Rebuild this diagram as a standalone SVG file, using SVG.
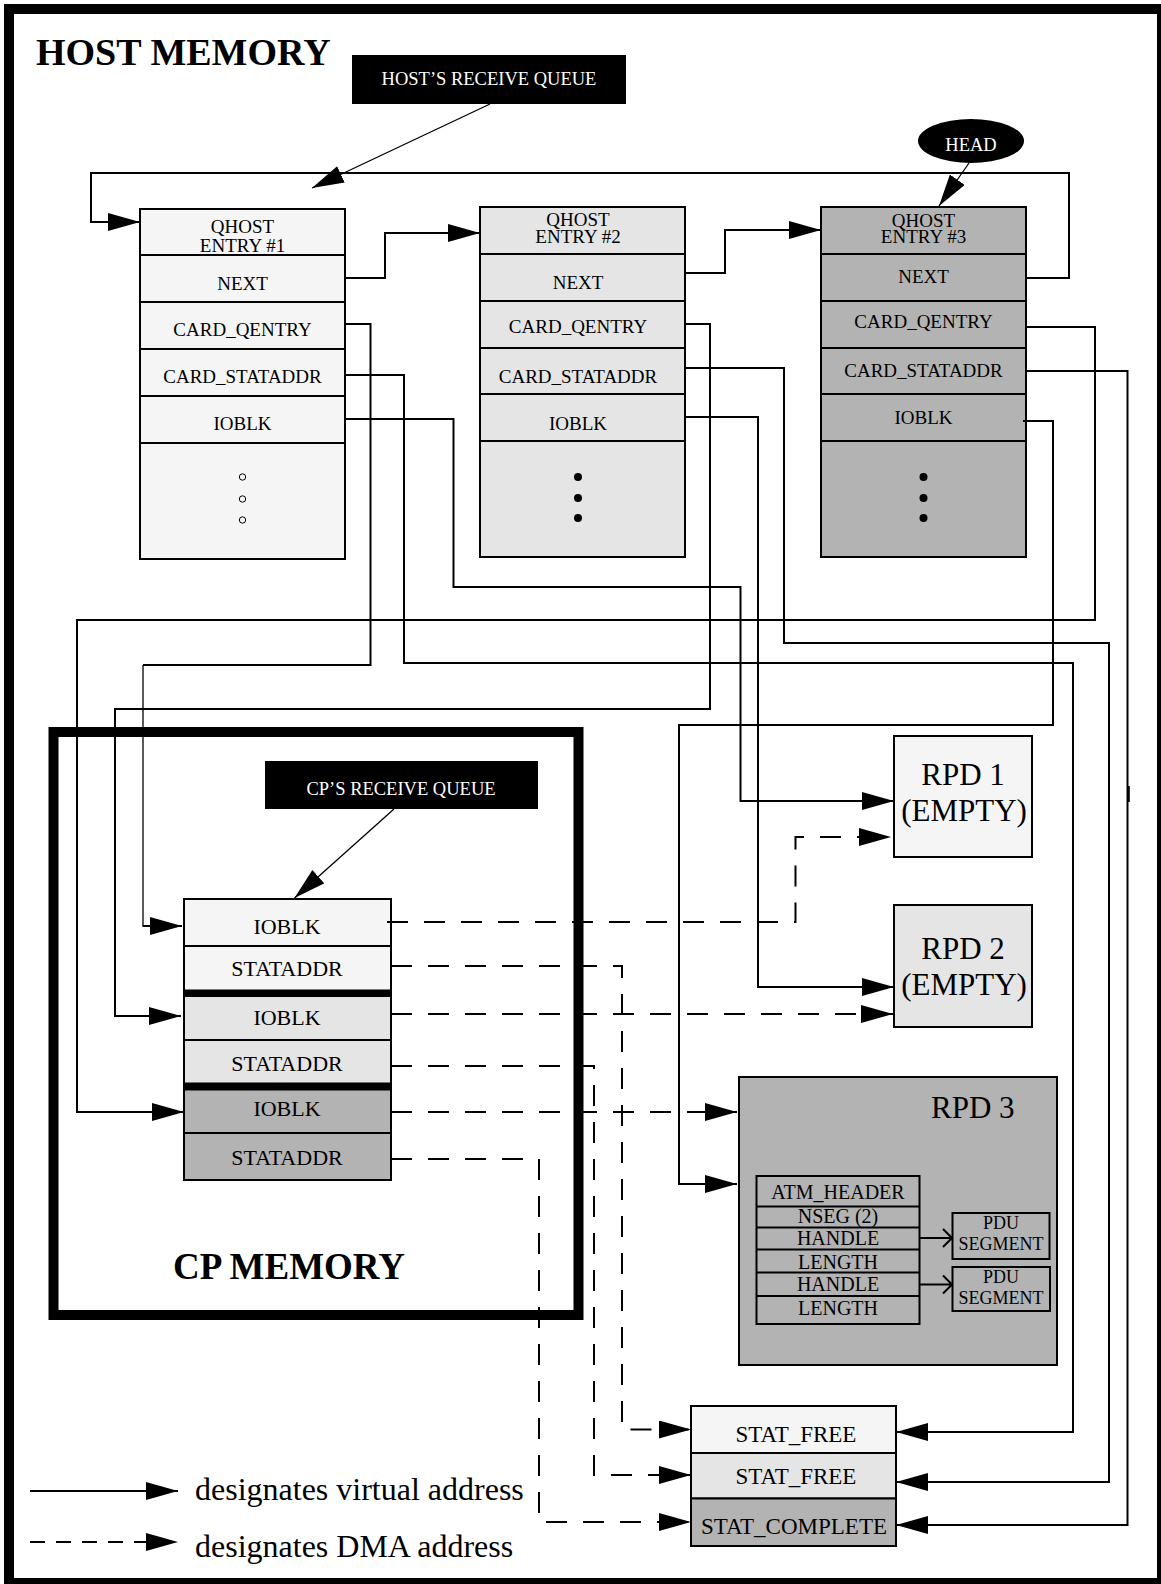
<svg xmlns="http://www.w3.org/2000/svg" width="1161" height="1584" viewBox="0 0 1161 1584">
<defs>
<marker id="ah" markerUnits="userSpaceOnUse" markerWidth="34" markerHeight="20" refX="32" refY="9" orient="auto"><path d="M0,0 L32,9 L0,18 z" fill="#000"/></marker>
</defs>
<style>
text{font-family:"Liberation Serif","Times New Roman",serif;fill:#000}
.t19{font-size:19px;text-anchor:middle}
.t22{font-size:22px;text-anchor:middle}
.t20{font-size:20px;text-anchor:middle}
.t18{font-size:18px;text-anchor:middle}
.t23{font-size:23px;text-anchor:middle}
.t31{font-size:31px}
.t32{font-size:32px}
.big{font-size:38px;font-weight:bold}
.wt{fill:#fff;font-size:18.5px;text-anchor:middle}
.box{stroke:#000;stroke-width:2}
.c1{fill:#f5f5f5}.c2{fill:#e5e5e5}.c3{fill:#b3b3b3}
.ln{fill:none;stroke:#000;stroke-width:2}
.thin{fill:none;stroke:#000;stroke-width:1.3}
.da{fill:none;stroke:#000;stroke-width:2;stroke-dasharray:21 16}
.row{stroke:#000;stroke-width:2}
</style>
<rect x="9" y="9" width="1153" height="1574" fill="#fff" stroke="#000" stroke-width="10"/>
<text x="36" y="65" class="big">HOST MEMORY</text>

<g id="host-queue">
<rect x="352" y="55" width="274" height="49" fill="#000"/>
<text x="489" y="85" class="wt">HOST’S RECEIVE QUEUE</text>
</g>
<g id="head">
<ellipse cx="971" cy="141" rx="53" ry="22" fill="#000"/>
<text x="971" y="151" class="wt">HEAD</text>
</g>

<g id="entry1">
<rect x="140" y="209" width="205" height="350" class="box c1"/>
<path d="M140,255H345M140,302H345M140,349H345M140,396H345M140,443H345" class="row"/>
<text x="242.5" y="233" class="t19">QHOST</text>
<text x="242.5" y="252" class="t19">ENTRY #1</text>
<text x="242.5" y="290" class="t19">NEXT</text>
<text x="242.5" y="336" class="t19">CARD_QENTRY</text>
<text x="242.5" y="383" class="t19">CARD_STATADDR</text>
<text x="242.5" y="430" class="t19">IOBLK</text>
<g fill="none" stroke="#000" stroke-width="1"><circle cx="242.5" cy="477" r="3.2"/><circle cx="242.5" cy="499" r="3.2"/><circle cx="242.5" cy="520" r="3.2"/></g>
</g>

<g id="entry2">
<rect x="480" y="207" width="205" height="350" class="box c2"/>
<path d="M480,254H685M480,301H685M480,348H685M480,394H685M480,441H685" class="row"/>
<text x="578" y="226" class="t19">QHOST</text>
<text x="578" y="243" class="t19">ENTRY #2</text>
<text x="578" y="289" class="t19">NEXT</text>
<text x="578" y="333" class="t19">CARD_QENTRY</text>
<text x="578" y="383" class="t19">CARD_STATADDR</text>
<text x="578" y="430" class="t19">IOBLK</text>
<g fill="#000"><circle cx="578" cy="477" r="4"/><circle cx="578" cy="498" r="4"/><circle cx="578" cy="518" r="4"/></g>
</g>

<g id="entry3">
<rect x="821" y="207" width="205" height="350" class="box c3"/>
<path d="M821,254H1026M821,301H1026M821,348H1026M821,394H1026M821,441H1026" class="row"/>
<text x="923.5" y="227" class="t19">QHOST</text>
<text x="923.5" y="243" class="t19">ENTRY #3</text>
<text x="923.5" y="283" class="t19">NEXT</text>
<text x="923.5" y="328" class="t19">CARD_QENTRY</text>
<text x="923.5" y="377" class="t19">CARD_STATADDR</text>
<text x="923.5" y="424" class="t19">IOBLK</text>
<g fill="#000"><circle cx="923.5" cy="477" r="4"/><circle cx="923.5" cy="498" r="4"/><circle cx="923.5" cy="518" r="4"/></g>
</g>

<g id="cp-memory">
<rect x="53.5" y="732" width="525" height="583" fill="none" stroke="#000" stroke-width="10"/>
<text x="173" y="1279" class="big" style="font-size:37px">CP MEMORY</text>
</g>
<g id="cp-queue">
<rect x="265" y="761" width="273" height="48" fill="#000"/>
<text x="401" y="795" class="wt">CP’S RECEIVE QUEUE</text>
</g>

<g id="cp-table">
<rect x="184" y="899" width="207" height="47" class="box c1"/>
<rect x="184" y="946" width="207" height="47" class="box c1"/>
<rect x="184" y="993" width="207" height="47" class="box c2"/>
<rect x="184" y="1040" width="207" height="46" class="box c2"/>
<rect x="184" y="1086" width="207" height="47" class="box c3"/>
<rect x="184" y="1133" width="207" height="47" class="box c3"/>
<rect x="185" y="989.5" width="206" height="7.5" fill="#000"/>
<rect x="185" y="1082.5" width="206" height="8" fill="#000"/>
<text x="287" y="933.5" class="t22">IOBLK</text>
<text x="287" y="975.5" class="t22">STATADDR</text>
<text x="287" y="1025" class="t22">IOBLK</text>
<text x="287" y="1071" class="t22">STATADDR</text>
<text x="287" y="1116" class="t22">IOBLK</text>
<text x="287" y="1164.5" class="t22">STATADDR</text>
</g>

<g id="rpd1">
<rect x="894" y="736" width="138" height="121" class="box c1"/>
<text x="963" y="784.5" class="t31" text-anchor="middle">RPD 1</text>
<text x="964" y="820.5" class="t31" text-anchor="middle">(EMPTY)</text>
</g>
<g id="rpd2">
<rect x="894" y="905" width="138" height="122" class="box c2"/>
<text x="963" y="958.5" class="t31" text-anchor="middle">RPD 2</text>
<text x="964" y="994.5" class="t31" text-anchor="middle">(EMPTY)</text>
</g>
<g id="rpd3">
<rect x="739" y="1077" width="318" height="288" class="box c3"/>
<text x="931" y="1118" class="t31">RPD 3</text>
<rect x="756.5" y="1176" width="163" height="148" class="box c3"/>
<path d="M756.5,1206.5H919.5M756.5,1227.5H919.5M756.5,1249.5H919.5M756.5,1272.5H919.5M756.5,1296H919.5" class="row"/>
<text x="838" y="1198.5" class="t20">ATM_HEADER</text>
<text x="838" y="1222.5" class="t20">NSEG (2)</text>
<text x="838" y="1245" class="t20">HANDLE</text>
<text x="838" y="1268.5" class="t20">LENGTH</text>
<text x="838" y="1291" class="t20">HANDLE</text>
<text x="838" y="1314.5" class="t20">LENGTH</text>
</g>
<g id="pdu1">
<rect x="952.5" y="1213" width="97" height="46" class="box c3"/>
<text x="1001" y="1228.5" class="t18">PDU</text>
<text x="1001" y="1249.5" class="t18">SEGMENT</text>
</g>
<g id="pdu2">
<rect x="952.5" y="1267" width="97.5" height="44" class="box c3"/>
<text x="1001" y="1282.5" class="t18">PDU</text>
<text x="1001" y="1303.5" class="t18">SEGMENT</text>
</g>

<g id="stat">
<rect x="691" y="1406" width="205" height="47" class="box c1"/>
<rect x="691" y="1453" width="205" height="45.5" class="box c2"/>
<rect x="691" y="1498.5" width="205" height="47.5" class="box c3"/>
<text x="796" y="1441.5" class="t23">STAT_FREE</text>
<text x="796" y="1484" class="t23">STAT_FREE</text>
<text x="794" y="1534" class="t23">STAT_COMPLETE</text>
</g>

<g id="connectors">
<path d="M490,104 L312,188" class="thin" marker-end="url(#ah)"/>
<path d="M969,163 L939,206" class="thin" marker-end="url(#ah)"/>
<path d="M394,809 L294.5,898" class="thin" marker-end="url(#ah)"/>
<path d="M1026,278H1069V173H91V222H140" class="ln" marker-end="url(#ah)"/>
<path d="M345,278H385V233H480" class="ln" marker-end="url(#ah)"/>
<path d="M685,273H725V230H821" class="ln" marker-end="url(#ah)"/>
<path d="M345,324H370.5V665H143" class="ln"/>
<path d="M143,665V926" class="thin"/>
<path d="M142.5,926H182" class="ln" marker-end="url(#ah)"/>
<path d="M345,375H404V663H1073V1432H896" class="ln" marker-end="url(#ah)"/>
<path d="M345,419H453.5V587H740.5V801H894" class="ln" marker-end="url(#ah)"/>
<path d="M685,324H710V709H115V1016H181" class="ln" marker-end="url(#ah)"/>
<path d="M685,368H784V643H1109V1482H896" class="ln" marker-end="url(#ah)"/>
<path d="M685,417H758V987H894" class="ln" marker-end="url(#ah)"/>
<path d="M1026,327H1095V620H77V1112H184" class="ln" marker-end="url(#ah)"/>
<path d="M1026,371H1127.5V1525H896" class="ln" marker-end="url(#ah)"/>
<path d="M1128.8,786V802" class="ln"/>
<path d="M1023,421H1053V725H679V1184H737" class="ln" marker-end="url(#ah)"/>
<path d="M919.5,1238H952M943,1229L952,1238L943,1247" class="ln"/>
<path d="M919.5,1284.5H952M943,1275.5L952,1284.5L943,1293.5" class="ln"/>
<path d="M387,922H795.5V837H891" class="da" marker-end="url(#ah)"/>
<path d="M391,966H622V1429.5H691" class="da" marker-end="url(#ah)"/>
<path d="M391,1014H893" class="da" marker-end="url(#ah)"/>
<path d="M391,1066H594V1475H691" class="da" marker-end="url(#ah)"/>
<path d="M391,1112H737" class="da" marker-end="url(#ah)"/>
<path d="M391,1159H539V1522H691" class="da" marker-end="url(#ah)"/>
</g>

<g id="legend">
<path d="M30,1491H178" class="ln" marker-end="url(#ah)"/>
<text x="195" y="1500" class="t32">designates virtual address</text>
<path d="M30,1542H178" fill="none" stroke="#000" stroke-width="2" stroke-dasharray="15 11" marker-end="url(#ah)"/>
<text x="195" y="1557" class="t32">designates DMA address</text>
</g>
</svg>
